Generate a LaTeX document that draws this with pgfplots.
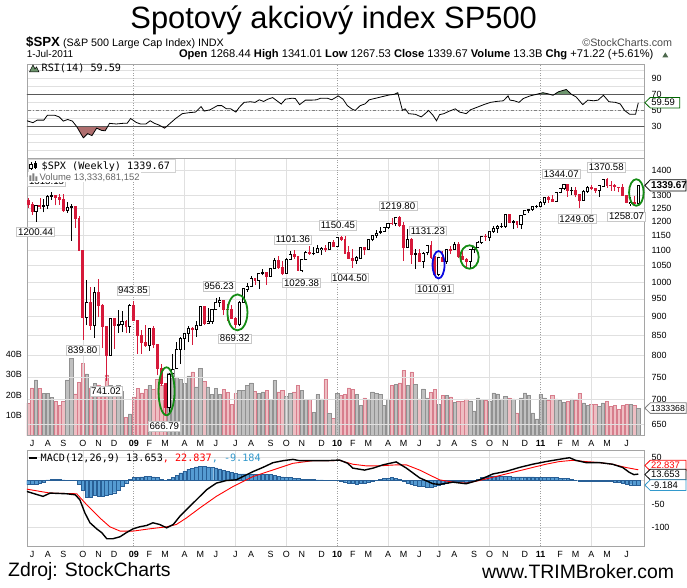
\documentclass[border=0pt]{standalone}
\usepackage{pgfplots}
\pgfplotsset{compat=1.18}
\usepgfplotslibrary{fillbetween}
\usepackage{pgfplotstable}
\usepackage{fontspec}
\setmainfont{Liberation Sans}
\newfontfamily\monof{DejaVu Sans Mono}
\definecolor{cred}{RGB}{214,25,58}
\definecolor{vpink}{RGB}{238,190,195}
\definecolor{vpinkd}{RGB}{215,125,140}
\definecolor{vgray}{RGB}{192,192,192}
\definecolor{vgrayd}{RGB}{145,145,145}
\definecolor{gridc}{RGB}{224,224,224}
\definecolor{framec}{RGB}{165,165,165}
\definecolor{histc}{RGB}{85,155,210}
\definecolor{histd}{RGB}{40,95,150}
\definecolor{macdblue}{RGB}{51,153,204}
\definecolor{rsigreen}{RGB}{110,150,110}
\definecolor{rsired}{RGB}{175,110,110}
\definecolor{labgray}{RGB}{200,200,200}
\definecolor{agreen}{RGB}{20,140,20}
\definecolor{ablue}{RGB}{10,10,225}

\pgfplotsset{
  panel/.style={
    scale only axis, width=618bp, xmin=-26.31, xmax=131.55,
    axis line style={draw=framec, line width=0.8bp},
    tick style={draw=none}, major tick length=0pt, minor tick length=0pt,
    xtick=\empty,
    minor xtick={-12,14,27,40,66,79,92,118},
    xminorgrids=true,
    minor x grid style={draw=gridc, line width=0.7bp},
    extra x ticks={1,53,105}, extra x tick labels={},
    extra x tick style={grid=major, major grid style={draw=gray!75, dash pattern=on 1bp off 1.5bp, line width=0.7bp}},
    ymajorgrids=true,
    major grid style={draw=gridc, line width=0.7bp},
    yticklabel pos=right,
    yticklabel style={anchor=west, inner sep=0pt, xshift=7bp, font=\fontsize{9}{9}\selectfont},
    xticklabel style={anchor=north, inner sep=0pt, yshift=-5bp, font=\fontsize{9}{9}\selectfont},
  },
  months/.style={
    xtick={-25,-21,-17,-12,-8,-4,1,5,9,14,18,22,27,31,36,40,44,49,53,57,61,66,70,74,79,83,88,92,96,101,105,110,114,118,122,127},
    xticklabels={J,A,S,O,N,D,\textbf{09},F,M,A,M,J,J,A,S,O,N,D,\textbf{10},F,M,A,M,J,J,A,S,O,N,D,\textbf{11},F,M,A,M,J},
  },
}
\tikzset{plab/.style={draw=labgray, fill=white, inner xsep=1.5bp, inner ysep=1.3bp, font=\fontsize{9.7}{9.7}\selectfont}}

% up-candle bodies (open, close)
\pgfplotstableread[row sep=\\]{
k y\\
-24 1239.5\\ -24 1260.7\\ -24 nan\\
-22 1258\\ -22 1260.3\\ -22 nan\\
-21 1260\\ -21 1296.3\\ -21 nan\\
-20 1296\\ -20 1298.2\\ -20 nan\\
-16 1242\\ -16 1251.7\\ -16 nan\\
-15 1252\\ -15 1255.1\\ -15 nan\\
-11 899\\ -11 940.6\\ -11 nan\\
-9 877\\ -9 968.8\\ -9 nan\\
-5 800\\ -5 896.2\\ -5 nan\\
-3 876\\ -3 879.7\\ -3 nan\\
-2 880\\ -2 887.9\\ -2 nan\\
0 873\\ 0 931.8\\ 0 nan\\
5 826\\ 5 868.6\\ 5 nan\\
10 683\\ 10 756.6\\ 10 nan\\
11 757\\ 11 768.5\\ 11 nan\\
12 769\\ 12 815.9\\ 12 nan\\
13 816\\ 13 842.5\\ 13 nan\\
14 842\\ 14 856.6\\ 14 nan\\
15 857\\ 15 869.6\\ 15 nan\\
17 866\\ 17 877.5\\ 17 nan\\
18 878\\ 18 929.2\\ 18 nan\\
20 883\\ 20 887\\ 20 nan\\
21 887\\ 21 919.1\\ 21 nan\\
22 919\\ 22 940.1\\ 22 nan\\
23 940\\ 23 946.2\\ 23 nan\\
28 879\\ 28 940.4\\ 28 nan\\
29 940\\ 29 979.3\\ 29 nan\\
30 979\\ 30 987.5\\ 30 nan\\
31 987\\ 31 1010.5\\ 31 nan\\
33 1004\\ 33 1026.1\\ 33 nan\\
34 1026\\ 34 1028.9\\ 34 nan\\
36 1016\\ 36 1042.7\\ 36 nan\\
37 1043\\ 37 1068.3\\ 37 nan\\
40 1025\\ 40 1071.5\\ 40 nan\\
41 1071\\ 41 1087.7\\ 41 nan\\
44 1036\\ 44 1069.3\\ 44 nan\\
45 1069\\ 45 1093.5\\ 45 nan\\
47 1091\\ 47 1091.5\\ 47 nan\\
48 1092\\ 48 1106\\ 48 nan\\
49 1106\\ 49 1106.4\\ 49 nan\\
51 1102\\ 51 1126.5\\ 51 nan\\
53 1115\\ 53 1145\\ 53 nan\\
58 1066\\ 58 1075.5\\ 58 nan\\
59 1075\\ 59 1109.2\\ 59 nan\\
61 1105\\ 61 1138.7\\ 61 nan\\
62 1139\\ 62 1150\\ 62 nan\\
63 1150\\ 63 1159.9\\ 63 nan\\
64 1160\\ 64 1166.6\\ 64 nan\\
65 1167\\ 65 1178.1\\ 65 nan\\
66 1178\\ 66 1194.4\\ 66 nan\\
68 1192\\ 68 1217.3\\ 68 nan\\
71 1111\\ 71 1135.7\\ 71 nan\\
73 1088\\ 73 1089.4\\ 73 nan\\
75 1065\\ 75 1091.6\\ 75 nan\\
76 1092\\ 76 1117.5\\ 76 nan\\
79 1023\\ 79 1078\\ 79 nan\\
81 1065\\ 81 1102.7\\ 81 nan\\
83 1102\\ 83 1121.6\\ 83 nan\\
87 1065\\ 87 1104.5\\ 87 nan\\
88 1104\\ 88 1109.6\\ 88 nan\\
89 1110\\ 89 1125.6\\ 89 nan\\
90 1126\\ 90 1148.7\\ 90 nan\\
92 1146\\ 92 1165.2\\ 92 nan\\
93 1165\\ 93 1176.2\\ 93 nan\\
94 1176\\ 94 1183.1\\ 94 nan\\
95 1183\\ 95 1183.3\\ 95 nan\\
96 1183\\ 96 1225.9\\ 96 nan\\
98 1199\\ 98 1199.7\\ 98 nan\\
100 1189\\ 100 1224.7\\ 100 nan\\
101 1225\\ 101 1240.4\\ 101 nan\\
102 1240\\ 102 1243.9\\ 102 nan\\
103 1244\\ 103 1256.8\\ 103 nan\\
104 1257\\ 104 1257.6\\ 104 nan\\
105 1258\\ 105 1271.5\\ 105 nan\\
106 1272\\ 106 1293.2\\ 106 nan\\
109 1276\\ 109 1310.9\\ 109 nan\\
110 1311\\ 110 1329.2\\ 110 nan\\
111 1329\\ 111 1343\\ 111 nan\\
113 1320\\ 113 1321.2\\ 113 nan\\
116 1279\\ 116 1313.8\\ 116 nan\\
117 1314\\ 117 1332.4\\ 117 nan\\
120 1320\\ 120 1337.4\\ 120 nan\\
121 1337\\ 121 1363.6\\ 121 nan\\
128 1271\\ 128 1271.5\\ 128 nan\\
130 1268.44\\ 130 1339.67\\ 130 nan\\
}\upbody

% down-candle bodies (open, close)
\pgfplotstableread[row sep=\\]{
k y\\
-26 1278\\ -26 1262.9\\ -26 nan\\
-25 1262.9\\ -25 1239.5\\ -25 nan\\
-23 1261\\ -23 1257.8\\ -23 nan\\
-19 1298\\ -19 1292.2\\ -19 nan\\
-18 1292\\ -18 1282.8\\ -18 nan\\
-17 1283\\ -17 1242.3\\ -17 nan\\
-14 1255\\ -14 1213.3\\ -14 nan\\
-13 1213\\ -13 1099.2\\ -13 nan\\
-12 1099\\ -12 899.2\\ -12 nan\\
-10 941\\ -10 876.8\\ -10 nan\\
-8 969\\ -8 931\\ -8 nan\\
-7 931\\ -7 873.3\\ -7 nan\\
-6 873\\ -6 800\\ -6 nan\\
-4 896\\ -4 876.1\\ -4 nan\\
-1 888\\ -1 872.8\\ -1 nan\\
1 932\\ 1 890.4\\ 1 nan\\
2 890\\ 2 850.1\\ 2 nan\\
3 850\\ 3 832\\ 3 nan\\
4 832\\ 4 825.9\\ 4 nan\\
6 869\\ 6 826.8\\ 6 nan\\
7 827\\ 7 770.1\\ 7 nan\\
8 770\\ 8 735.1\\ 8 nan\\
9 735\\ 9 683.4\\ 9 nan\\
16 870\\ 16 866.2\\ 16 nan\\
19 929\\ 19 882.9\\ 19 nan\\
24 946\\ 24 921.2\\ 24 nan\\
25 921\\ 25 918.9\\ 25 nan\\
26 919\\ 26 896.4\\ 26 nan\\
27 896\\ 27 879.1\\ 27 nan\\
32 1010\\ 32 1004.1\\ 32 nan\\
35 1029\\ 35 1016.4\\ 35 nan\\
38 1068\\ 38 1044.4\\ 38 nan\\
39 1044\\ 39 1025.2\\ 39 nan\\
42 1088\\ 42 1079.6\\ 42 nan\\
43 1080\\ 43 1036.2\\ 43 nan\\
46 1093\\ 46 1091.4\\ 46 nan\\
50 1106\\ 50 1102.5\\ 50 nan\\
52 1126\\ 52 1115.1\\ 52 nan\\
54 1145\\ 54 1136\\ 54 nan\\
55 1136\\ 55 1091.8\\ 55 nan\\
56 1092\\ 56 1073.9\\ 56 nan\\
57 1074\\ 57 1066.2\\ 57 nan\\
60 1109\\ 60 1104.5\\ 60 nan\\
67 1194\\ 67 1192.1\\ 67 nan\\
69 1217\\ 69 1186.7\\ 69 nan\\
70 1187\\ 70 1110.9\\ 70 nan\\
72 1136\\ 72 1087.7\\ 72 nan\\
74 1089\\ 74 1064.9\\ 74 nan\\
77 1117\\ 77 1076.8\\ 77 nan\\
78 1077\\ 78 1022.6\\ 78 nan\\
80 1078\\ 80 1064.9\\ 80 nan\\
82 1103\\ 82 1101.6\\ 82 nan\\
84 1122\\ 84 1079.3\\ 84 nan\\
85 1079\\ 85 1071.7\\ 85 nan\\
86 1072\\ 86 1064.6\\ 86 nan\\
91 1149\\ 91 1146.2\\ 91 nan\\
97 1226\\ 97 1199.2\\ 97 nan\\
99 1200\\ 99 1189.4\\ 99 nan\\
107 1293\\ 107 1283.4\\ 107 nan\\
108 1283\\ 108 1276.3\\ 108 nan\\
112 1343\\ 112 1319.9\\ 112 nan\\
114 1321\\ 114 1304.3\\ 114 nan\\
115 1304\\ 115 1279.2\\ 115 nan\\
118 1332\\ 118 1328.2\\ 118 nan\\
119 1328\\ 119 1319.7\\ 119 nan\\
122 1364\\ 122 1340.2\\ 122 nan\\
123 1340\\ 123 1337.8\\ 123 nan\\
124 1338\\ 124 1333.3\\ 124 nan\\
125 1333\\ 125 1331.1\\ 125 nan\\
126 1331\\ 126 1300.2\\ 126 nan\\
127 1300\\ 127 1271\\ 127 nan\\
129 1271\\ 129 1268.5\\ 129 nan\\
}\downbody

% RSI(14)
\pgfplotstableread[row sep=\\]{
k r\\
-26.3 37.2\\ -24.8 34.8\\ -23.7 38\\ -22.0 38\\ -21.1 44\\ -19.2 44\\ -18.1 42\\ -17.0 36.8\\
-15.9 38.8\\ -14.7 36.8\\ -13.6 30\\ -11.9 16\\ -10.8 21.2\\ -9.7 18.8\\ -8.5 28\\ -7.2 25.2\\
-6.3 24.8\\ -5.2 34\\ -3.5 33.2\\ -1.8 34\\ -0.7 34\\ 0.2 40\\ 1.6 35.2\\ 2.7 33.2\\ 4.1 33.2\\
5.2 37.2\\ 6.3 34\\ 7.4 32\\ 8.9 28\\ 10.0 32.8\\ 11.7 40\\ 13.4 46\\ 15.1 47.2\\ 16.8 48\\
18.2 54.8\\ 19.0 49.2\\ 20.5 50.8\\ 22.4 56\\ 23.5 56\\ 24.7 52\\ 25.8 52\\ 27.1 48\\ 28.0 54\\
29.2 60\\ 30.8 60.8\\ 32.0 60\\ 33.1 63.2\\ 34.2 61.2\\ 35.3 64\\ 36.5 66\\ 37.6 62\\ 38.7 58\\
39.8 64\\ 41.5 65.2\\ 42.3 64.8\\ 43.4 57.2\\ 44.9 62.8\\ 46.6 62.8\\ 47.7 63.2\\ 48.8 65.2\\
50.5 65.2\\ 51.6 63.2\\ 53.3 68\\ 54.5 64\\ 55.6 56\\ 56.7 52\\ 57.6 50\\ 58.9 56\\ 60.1 58\\
61.2 63.2\\ 62.9 65.2\\ 64.6 67.2\\ 66.3 69.2\\ 67.6 70\\ 68.5 72\\ 69.7 50\\ 70.4 52\\ 71.3 46\\
73.0 45.2\\ 74.5 42\\ 75.3 45.2\\ 76.4 50\\ 77.5 44\\ 78.4 37.2\\ 79.2 44.8\\ 80.3 46\\ 81.5 48.8\\
83.2 52\\ 84.3 48\\ 86.0 46\\ 87.1 50.8\\ 88.8 54\\ 90.5 57.2\\ 92.2 60\\ 93.8 61.2\\ 95.5 62\\
96.7 68\\ 97.2 62.8\\ 98.3 62\\ 99.5 60\\ 100.6 64.8\\ 102.3 68\\ 104.0 70\\ 105.6 72\\ 106.8 70.8\\
108.2 68.8\\ 109.6 73.2\\ 111.6 76\\ 112.9 70\\ 114.1 66.8\\ 115.8 57.2\\ 117.1 62.8\\ 118.6 62\\
119.7 62.8\\ 121.1 68.8\\ 122.5 60.8\\ 124.2 60\\ 125.4 58\\ 126.5 50\\ 127.8 45.2\\ 129.3 45.2\\
130 59.59\\
}\rsitab

\begin{document}
\begin{tikzpicture}
\path (0,0) rectangle (687bp,-588bp);

% ---------------- RSI panel ----------------
\begin{axis}[panel, at={(27bp,-64bp)}, anchor=north west, height=95bp,
  ymin=-10.04, ymax=107.7, ytick={0,10,20,30,40,50,60,70,80,90,100}, yticklabels={,,,30,,50,,70,,90,}]
\addplot[draw=none, name path=rsi] table[x=k,y=r]{\rsitab};
\addplot[draw=none, name path=l70] coordinates {(-30,70) (135,70)};
\addplot[draw=none, name path=l30] coordinates {(-30,30) (135,30)};
\addplot[fill=rsigreen, draw=none] fill between[of=rsi and l70, soft clip={(axis cs:-30,70) rectangle (axis cs:135,105)}];
\addplot[fill=rsired, draw=none] fill between[of=rsi and l30, soft clip={(axis cs:-30,-5) rectangle (axis cs:135,30)}];
\addplot[gray!70!black, line width=0.9bp] coordinates {(-30,70) (135,70)};
\addplot[gray!70!black, line width=0.9bp] coordinates {(-30,30) (135,30)};
\addplot[gray, line width=0.7bp, dash dot] coordinates {(-30,50) (135,50)};
\addplot[black, line width=0.8bp] table[x=k,y=r]{\rsitab};
\end{axis}

% ---------------- Volume (behind price) ----------------
\begin{axis}[scale only axis, width=618bp, height=276.7bp, at={(27bp,-159bp)}, anchor=north west,
  xmin=-26.31, xmax=131.55, ymin=0, ymax=137.1,
  axis line style={draw=none}, tick style={draw=none}, major tick length=0pt,
  xtick=\empty, ytick={10,20,30,40}, yticklabels={10B,20B,30B,40B},
  yticklabel style={anchor=east, inner sep=0pt, xshift=-5bp, font=\fontsize{9}{9}\selectfont}]
\addplot[ybar, bar width=3.3bp, bar shift=0pt, fill=vpink, draw=vpinkd, line width=0.5bp] coordinates {
(-26,16.0)(-25,23.5)(-23,23.4)(-19,16.7)(-18,14.9)(-17,16.7)(-14,20.5)(-13,26.2)(-12,35.5)(-10,23.5)
(-8,25.0)(-7,22.6)(-6,29.9)(-4,24.1)(-1,9.0)(1,19.0)(2,23.4)(3,21.0)(4,22.6)(6,22.9)(7,27.6)(8,24.7)
(9,22.6)(16,31.5)(19,26.6)(24,22.6)(25,21.3)(26,15.2)(27,20.7)(32,21.7)(35,22.2)(38,21.5)(39,22.2)
(42,21.5)(43,24.6)(46,17.7)(50,27.6)(52,8.3)(54,19.7)(55,20.2)(56,23.5)(57,22.7)(60,18.5)(67,24.6)
(69,26.0)(70,32.0)(72,31.4)(74,18.0)(77,21.4)(78,22.7)(80,19.9)(82,19.0)(84,16.9)(85,16.9)(86,18.1)
(91,17.5)(97,18.6)(99,11.1)(107,17.2)(108,19.6)(112,16.7)(114,17.2)(115,20.7)(118,15.2)(119,15.5)
(122,16.7)(123,14.4)(124,14.7)(125,12.7)(126,14.7)(127,15.5)(129,14.7)};
\addplot[ybar, bar width=3.3bp, bar shift=0pt, fill=vgray, draw=vgrayd, line width=0.5bp] coordinates {
(-24,27.5)(-22,20.6)(-21,20.6)(-20,18.8)(-16,27.5)(-15,38.0)(-11,30.5)(-9,25.9)(-5,24.7)(-3,24.7)
(-2,21.9)(0,10.6)(5,24.7)(10,31.0)(11,32.7)(12,29.0)(13,27.6)(14,25.9)(15,29.5)(17,24.0)(18,33.2)
(20,24.0)(21,20.3)(22,23.2)(23,20.2)(28,22.2)(29,22.2)(30,24.6)(31,26.0)(33,20.7)(34,21.5)(36,17.7)
(37,27.1)(40,19.2)(41,20.7)(44,22.2)(45,17.7)(47,11.4)(48,20.2)(49,18.0)(51,10.7)(53,20.7)(58,20.2)
(59,14.7)(61,17.7)(62,21.5)(63,20.7)(64,20.2)(65,14.7)(66,18.0)(68,25.1)(71,24.6)(73,25.4)(75,23.0)
(76,18.5)(79,15.5)(81,19.9)(83,16.4)(87,17.1)(88,12.1)(89,18.5)(90,17.7)(92,17.1)(93,21.0)(94,20.5)
(95,18.1)(96,19.3)(98,18.1)(100,18.5)(101,21.0)(102,19.7)(103,11.1)(104,8.1)(105,20.2)(106,18.5)
(109,18.0)(110,17.2)(111,16.4)(113,18.0)(116,16.1)(117,14.7)(120,14.4)(121,16.1)(128,15.2)(130,13.3)};
\end{axis}

% ---------------- Price panel ----------------
\begin{axis}[panel, months, at={(27bp,-159bp)}, anchor=north west, height=276.7bp,
  ymode=log, ymin=628.7, ymax=1451.7, clip=false,
  ytick={650,700,750,800,850,900,950,1000,1050,1100,1150,1200,1250,1300,1400},
  yticklabels={650,700,750,800,850,900,950,1000,1050,1100,1150,1200,1250,1300,1400}]
% down wicks
\addplot[cred, line width=0.8bp, unbounded coords=jump] coordinates {
(-26,1252)(-26,1290)(-26,nan) (-25,1225)(-25,1273)(-25,nan) (-23,1248)(-23,1291)(-23,nan)
(-19,1261)(-19,1300)(-19,nan) (-18,1263)(-18,1304)(-18,nan) (-17,1236)(-17,1303)(-17,nan)
(-14,1179)(-14,1255)(-14,nan) (-13,1098)(-13,1220)(-13,nan) (-12,839.8)(-12,1099)(-12,nan)
(-10,865)(-10,985)(-10,nan) (-8,899)(-8,1007.5)(-8,nan) (-7,818.7)(-7,934)(-7,nan)
(-6,741.02)(-6,874)(-6,nan) (-4,815.7)(-4,896)(-4,nan) (-1,857)(-1,890)(-1,nan)
(1,888)(1,943.85)(1,nan) (2,804.3)(2,890)(2,nan) (3,804.9)(3,865.8)(3,nan)
(4,821.7)(4,877.9)(4,nan) (6,818.4)(6,875)(6,nan) (7,754.3)(7,827)(7,nan)
(8,730)(8,780)(8,nan) (9,666.79)(9,735)(9,nan) (16,826.8)(16,871.8)(16,nan)
(19,878.9)(19,930.2)(19,nan) (24,903.8)(24,946.3)(24,nan) (25,888.9)(25,935)(25,nan)
(26,896.4)(26,931.9)(26,nan) (27,869.32)(27,898.7)(27,nan) (32,991)(32,1013)(32,nan)
(35,991.97)(35,1030)(35,nan) (38,1041.2)(38,1080.2)(38,nan) (39,1020)(39,1065)(39,nan)
(42,1073)(42,1101.36)(42,nan) (43,1033.4)(43,1081)(43,nan) (46,1085)(46,1113.7)(46,nan)
(50,1095.4)(50,1117.6)(50,nan) (52,1114.8)(52,1133.9)(52,nan) (54,1131.4)(54,1150.45)(54,nan)
(55,1090.2)(55,1150.4)(55,nan) (56,1071.6)(56,1115.5)(56,nan) (57,1044.5)(57,1104.7)(57,nan)
(60,1086)(60,1112.4)(60,nan) (67,1186.6)(67,1213.9)(67,nan) (69,1181.6)(69,1219.8)(69,nan)
(70,1065.8)(70,1197.8)(70,nan) (72,1055.9)(72,1141.9)(72,nan) (74,1064.9)(74,1105.7)(74,nan)
(77,1071.8)(77,1131.23)(77,nan) (78,1010.91)(78,1081.4)(78,nan) (80,1063.3)(80,1099.1)(80,nan)
(82,1088)(82,1115)(82,nan) (84,1076.6)(84,1127.3)(84,nan) (85,1069.2)(85,1100.1)(85,nan)
(86,1039.7)(86,1075)(86,nan) (91,1131.9)(91,1157.2)(91,nan) (97,1194)(97,1227.1)(97,nan)
(99,1176.2)(99,1200)(99,nan) (107,1271.3)(107,1296.1)(107,nan) (108,1275.1)(108,1302.7)(108,nan)
(112,1294.3)(112,1343)(112,nan) (114,1291.2)(114,1331.1)(114,nan) (115,1249.05)(115,1304)(115,nan)
(118,1322)(118,1339.5)(118,nan) (119,1309.7)(119,1328.2)(119,nan) (122,1329.2)(122,1370.58)(122,nan)
(123,1318.5)(123,1359.4)(123,nan) (124,1318.5)(124,1346.8)(124,nan) (125,1311.8)(125,1334.6)(125,nan)
(126,1297)(126,1345.2)(126,nan) (127,1268.9)(127,1300.2)(127,nan) (129,1262.9)(129,1298.6)(129,nan)};
% up wicks
\addplot[black, line width=0.8bp, unbounded coords=jump] coordinates {
(-24,1200.44)(-24,1262)(-24,nan) (-22,1234)(-22,1285)(-22,nan) (-21,1247)(-21,1300)(-21,nan)
(-20,1283)(-20,1313.15)(-20,nan) (-16,1233)(-16,1274)(-16,nan) (-15,1133.5)(-15,1265)(-15,nan)
(-11,877)(-11,1006)(-11,nan) (-9,845)(-9,984)(-9,nan) (-5,800)(-5,897)(-5,nan)
(-3,857.7)(-3,918.9)(-3,nan) (-2,858.3)(-2,914.7)(-2,nan) (0,857)(0,934.7)(0,nan)
(5,812)(5,870.8)(5,nan) (10,672.9)(10,758.3)(10,nan) (11,751.4)(11,803)(11,nan)
(12,768)(12,832.98)(12,nan) (13,779.8)(13,845.6)(13,nan) (14,814.5)(14,857)(14,nan)
(15,833)(15,875)(15,nan) (17,847)(17,887.3)(17,nan) (18,878)(18,930.2)(18,nan)
(20,882.9)(20,924.6)(20,nan) (21,881.5)(21,920)(21,nan) (22,919)(22,951.7)(22,nan)
(23,926)(23,956.23)(23,nan) (28,875.3)(28,943.96)(28,nan) (29,940)(29,979.4)(29,nan)
(30,971)(30,996.7)(30,nan) (31,987)(31,1018)(31,nan) (33,978.5)(33,1027.6)(33,nan)
(34,1020)(34,1039.5)(34,nan) (36,1016)(36,1044.1)(36,nan) (37,1042)(37,1074.8)(37,nan)
(40,1025)(40,1075)(40,nan) (41,1071)(41,1096.6)(41,nan) (44,1029.38)(44,1071.5)(44,nan)
(45,1069)(45,1097)(45,nan) (47,1083.7)(47,1112.4)(47,nan) (48,1090)(48,1119)(48,nan)
(49,1085.9)(49,1110)(49,nan) (51,1102)(51,1126.5)(51,nan) (53,1115)(53,1145.4)(53,nan)
(58,1056.1)(58,1080)(58,nan) (59,1075)(59,1112.4)(59,nan) (61,1105)(61,1139)(61,nan)
(62,1131)(62,1151)(62,nan) (63,1141)(63,1169.2)(63,nan) (64,1156)(64,1180.7)(64,nan)
(65,1165)(65,1181.4)(65,nan) (66,1175.3)(66,1194.7)(66,nan) (68,1183.6)(68,1217.3)(68,nan)
(71,1111)(71,1173.6)(71,nan) (73,1040.8)(73,1104)(73,nan) (75,1042.2)(75,1093.9)(75,nan)
(76,1083.4)(76,1119)(76,nan) (79,1018)(79,1078)(79,nan) (81,1056.9)(81,1103.7)(81,nan)
(83,1102)(83,1129.2)(83,nan) (87,1040.9)(87,1105.1)(87,nan) (88,1091.4)(88,1110.9)(88,nan)
(89,1110)(89,1131.5)(89,nan) (90,1122.5)(90,1148.9)(90,nan) (92,1131.9)(92,1167.7)(92,nan)
(93,1159.7)(93,1184.4)(93,nan) (94,1159.7)(94,1189.4)(94,nan) (95,1177.7)(95,1196.1)(95,nan)
(96,1177.7)(96,1227.1)(96,nan) (98,1173)(98,1207.4)(98,nan) (100,1173.6)(100,1225.6)(100,nan)
(101,1223)(101,1240.4)(101,nan) (102,1232.9)(102,1246.7)(102,nan) (103,1241)(103,1259)(103,nan)
(104,1251.5)(104,1262.6)(104,nan) (105,1257.6)(105,1278.2)(105,nan) (106,1262.2)(106,1293.2)(106,nan)
(109,1276)(109,1311)(109,nan) (110,1307.6)(110,1330.8)(110,nan) (111,1320.9)(111,1344.07)(111,nan)
(113,1299.2)(113,1332.3)(113,nan) (116,1279)(116,1319.7)(116,nan) (117,1309.7)(117,1337.9)(117,nan)
(120,1294.7)(120,1337.8)(120,nan) (121,1336.5)(121,1364.6)(121,nan) (128,1258.07)(128,1292.5)(128,nan)
(130,1267.53)(130,1341.01)(130,nan)};
% down bodies
\addplot[cred, line width=2.9bp, unbounded coords=jump] table[x=k,y=y]{\downbody};
\addplot[cred, only marks, mark=-, mark size=1.45bp, mark options={line width=0.8bp}] table[x=k,y=y]{\downbody};
% up bodies (hollow)
\addplot[black, line width=3.1bp, unbounded coords=jump] table[x=k,y=y]{\upbody};
\addplot[white, line width=1.5bp, unbounded coords=jump] table[x=k,y=y]{\upbody};
\addplot[black, only marks, mark=-, mark size=1.55bp, mark options={line width=0.8bp}] table[x=k,y=y]{\upbody};
% value labels
\node[plab, anchor=south, yshift=5.5bp] at (axis cs:-21.3,1313.15) {1313.15};
\node[plab, anchor=north, yshift=-5.5bp] at (axis cs:-24.1,1200.44) {1200.44};
\node[plab, anchor=north, yshift=-5.5bp] at (axis cs:-12.1,839.80) {839.80};
\node[plab, anchor=north, yshift=-5.5bp] at (axis cs:-6.1,741.02) {741.02};
\node[plab, anchor=south, yshift=5.5bp] at (axis cs:0.8,943.85) {943.85};
\node[plab, anchor=north, yshift=-5.5bp] at (axis cs:8.8,666.79) {666.79};
\node[plab, anchor=south, yshift=5.5bp] at (axis cs:22.8,956.23) {956.23};
\node[plab, anchor=north, yshift=-5.5bp] at (axis cs:26.8,869.32) {869.32};
\node[plab, anchor=south, yshift=5.5bp] at (axis cs:41.7,1101.36) {1101.36};
\node[plab, anchor=north, yshift=-5.5bp] at (axis cs:43.9,1029.38) {1029.38};
\node[plab, anchor=south, yshift=5.5bp] at (axis cs:53.2,1150.45) {1150.45};
\node[plab, anchor=north, yshift=-5.5bp] at (axis cs:56.2,1044.50) {1044.50};
\node[plab, anchor=south, yshift=5.5bp] at (axis cs:68.5,1219.80) {1219.80};
\node[plab, anchor=south, yshift=5.5bp] at (axis cs:76.2,1131.23) {1131.23};
\node[plab, anchor=north, yshift=-5.5bp] at (axis cs:77.9,1010.91) {1010.91};
\node[plab, anchor=south, yshift=5.5bp] at (axis cs:110.3,1344.07) {1344.07};
\node[plab, anchor=south, yshift=5.5bp] at (axis cs:121.8,1370.58) {1370.58};
\node[plab, anchor=north, yshift=-5.5bp] at (axis cs:114.3,1249.05) {1249.05};
\node[plab, anchor=north, yshift=-5.5bp] at (axis cs:127.0,1258.07) {1258.07};
\end{axis}

% ---------------- MACD panel ----------------
\begin{axis}[panel, months, at={(27bp,-451bp)}, anchor=north west, height=96bp,
  ymin=-140.4, ymax=63.8, ytick={-100,-50,0,50}, yticklabels={-100,-50,,50}]
\addplot[ybar, bar width=3.5bp, bar shift=0pt, fill=histc, draw=histd, line width=0.4bp] coordinates {
(-26,-8)(-25,-8)(-24,-8)(-23,-6)(-22,-3)(-21,1.5)(-20,2)(-19,2)(-18,2)(-17,1.5)(-16,1)(-15,1)(-14,0)
(-13,-8)(-12,-20)(-11,-35)(-10,-35)(-9,-31)(-8,-33)(-7,-34)(-6,-32)(-5,-29)(-4,-26)(-3,-20)(-2,-13)
(-1,-6)(0,3)(1,6)(2,7)(3,8)(4,9)(5,9)(6,8)(7,6)(8,3)(9,0)(10,3)(11,6)(12,11)(13,16)(14,20)(15,24)
(16,26)(17,29)(18,30)(19,30)(20,29)(21,28)(22,27)(23,25)(24,22)(25,19)(26,17)(27,15)(28,14)(29,14)
(30,14)(31,13)(32,13)(33,13)(34,13)(35,13)(36,13)(37,11)(38,9)(39,8)(40,7)(41,6)(42,5)(43,4)(44,3)
(45,3)(46,2)(47,2)(48,1.5)(49,1.5)(50,1)(51,1)(52,0.5)(53,0)(54,-1)(55,-3)(56,-5)(57,-6)(58,-7)
(59,-6)(60,-5)(61,-3)(62,-1)(63,1)(64,3)(65,4)(66,5)(67,6)(68,5)(69,3)(70,-2)(71,-5)(72,-8)(73,-10)
(74,-12)(75,-13)(76,-14)(77,-14)(78,-12)(79,-10)(80,-8)(81,-5)(82,-3)(83,-2)(84,-2)(85,-2)(86,-3)
(87,-2)(88,1)(89,3)(90,6)(91,8)(92,9)(93,10)(94,10)(95,9)(96,9)(97,9)(98,8)(99,8)(100,8)(101,8)
(102,8)(103,8)(104,7)(105,7)(106,7)(107,7)(108,6)(109,6)(110,5)(111,5)(112,4)(113,2)(114,0)
(115,-1)(116,-1)(117,-1)(118,-1)(119,-1)(120,-1)(121,-1)(122,-1.5)(123,-2)(124,-3)(125,-4)
(126,-5)(127,-7)(128,-9)(129,-10)(130,-9.184)};
\addplot[red, line width=0.9bp] coordinates {
(-26.4,-18.3)(-20.4,-26.8)(-13.6,-28.2)(-11.1,-51)(-7.7,-79.5)(-5.1,-98.6)(-2.5,-107.7)(0.85,-107.7)
(5.1,-102.8)(9.4,-98.6)(11.9,-93.6)(14.5,-79.5)(17.9,-58.4)(22.1,-33.8)(26.4,-12.7)(31.5,8.4)
(36.6,22.5)(41.7,36.6)(46.8,42.2)(51.9,42.2)(53.6,43)(57,34.7)(60.4,31.2)(63.7,31.2)(68.1,33.3)
(70.7,33.3)(74.1,22.2)(77.5,8.3)(79.2,1.4)(82.6,-3.5)(86,-5.6)(89.4,0)(92.8,6.9)(96.2,13.9)
(99.6,20.8)(103,27.8)(106.4,34.7)(109.8,40.3)(113.2,43)(116.6,40.3)(120,38.2)(123.4,34.7)
(126.8,27.8)(130,22.84)};
\addplot[black, line width=1.4bp] coordinates {
(-26.4,-23.2)(-22.2,-33.8)(-20.4,-26.8)(-16.2,-28.2)(-14,-30.3)(-12.8,-40.8)(-11.5,-69)(-10.2,-90)
(-8.5,-102.8)(-7.2,-111)(-5.9,-123.9)(-4.3,-123.9)(-2.5,-119.7)(-0.9,-111)(0.85,-102.8)(2.5,-98.6)
(4.3,-95.7)(5.9,-90)(7.6,-93.6)(9.4,-100.7)(11.1,-93.6)(12.8,-76)(14.5,-62)(16.2,-47.9)(17.9,-33.8)
(19.6,-19.7)(22.1,-5.6)(24.7,0)(27.2,1.4)(28.9,8.4)(31.5,19)(34.1,28.2)(36.6,38)(39.2,42.2)(41.7,45)
(43.4,42.2)(46.8,42.2)(50.2,42.2)(53.6,43.6)(55.7,36.6)(57,26.4)(60,22.2)(62.2,26.4)(64.7,33.3)
(68.1,39.6)(70.7,26.4)(74.1,5.6)(77.5,-6.9)(79.2,-8.3)(82.6,-3.5)(86,-6.9)(89.4,1.4)(92.8,13.9)
(96.2,19.4)(99.6,27.8)(103,34.7)(106.4,40.3)(109.8,45.1)(112.4,48.6)(114,43)(116.6,38.2)(120,38.2)
(123.4,34.7)(126,27.8)(127.7,17.4)(128.9,12.5)(130,13.65)};
\end{axis}

% ---------------- annotations in pixel frame ----------------
\begin{scope}[x=1bp, y=-1bp]
% title
\node[anchor=base, inner sep=0pt] at (334,28.5) {\fontsize{31}{31}\selectfont Spotový akciový index SP500};
% header
\node[anchor=base west, inner sep=0pt] at (26,46.5) {\fontsize{13.3}{14}\selectfont\bfseries \$SPX};
\node[anchor=base west, inner sep=0pt] at (63,46.5) {\fontsize{10.8}{12}\selectfont (S\&P 500 Large Cap Index) INDX};
\node[anchor=base east, inner sep=0pt, text=black!70] at (673,46.5) {\fontsize{10.8}{12}\selectfont ©StockCharts.com};
\node[anchor=base west, inner sep=0pt] at (26.7,57.5) {\fontsize{10}{12}\selectfont 1-Jul-2011};
\node[anchor=base west, inner sep=0pt] at (179,57.5) {\fontsize{11.2}{12}\selectfont \textbf{Open} 1268.44 \textbf{High} 1341.01 \textbf{Low} 1267.53 \textbf{Close} 1339.67 \textbf{Volume} 13.3B \textbf{Chg} +71.22 (+5.61\%)};
\fill[rsigreen!70!black] (663,57.5) -- (669,57.5) -- (666,52.5) -- cycle;
% RSI legend
\filldraw[fill=rsigreen, draw=black, line width=0.5] (29.5,72) -- (33,65) -- (35,69) -- (36.5,67) -- (39,72) -- cycle;
\node[anchor=base west, inner sep=0pt] at (41.5,71.2) {\monof\fontsize{10.2}{12}\selectfont RSI(14) 59.59};
% price legend
\filldraw[fill=white, draw=gray!35, line width=0.5] (28,159.6) rectangle (175,172);
\fill[white] (28,172) rectangle (141,182.5);
\draw[black, line width=0.6] (31,162) -- (31,170.5) (35.5,161.5) -- (35.5,169.5);
\filldraw[fill=white, draw=black, line width=0.6] (29.8,164) rectangle (32.2,168.5);
\filldraw[fill=black, draw=black, line width=0.6] (34.3,163) rectangle (36.7,167);
\node[anchor=base west, inner sep=0pt] at (41.5,169.7) {\monof\fontsize{10.2}{12}\selectfont \$SPX (Weekly) 1339.67};
\fill[gray] (29.5,175.5) rectangle (31.5,181) (32.5,173.5) rectangle (34.5,181) (35.5,176.5) rectangle (37.5,181);
\node[anchor=base west, inner sep=0pt, text=black!60] at (39.5,180.3) {\fontsize{9.5}{11}\selectfont Volume 13,333,681,152};
% MACD legend
\draw[black, line width=1.6] (29,458.5) -- (37.5,458.5);
\node[anchor=base west, inner sep=0pt] at (40.5,462) {\monof\fontsize{10.2}{12}\selectfont MACD(12,26,9) 13.653\textcolor{red}{, 22.837}\textcolor{macdblue}{, -9.184}};
% ellipses
\draw[agreen, line width=1.8] (166.7,391.7) ellipse [x radius=8bp, y radius=24bp];
\draw[agreen, line width=1.8] (237.7,312.7) ellipse [x radius=10bp, y radius=18bp];
\draw[ablue, line width=1.8] (439,265) ellipse [x radius=6bp, y radius=13.7bp];
\draw[agreen, line width=1.8] (470,257.3) ellipse [x radius=9.2bp, y radius=11.7bp];
\draw[agreen, line width=1.8] (637,192.7) ellipse [x radius=7.3bp, y radius=13.3bp];
% right value boxes
\filldraw[fill=white, draw=green!40!black, line width=0.8] (645.5,102.8) -- (651,97.5) -- (680.5,97.5) -- (680.5,108.1) -- (651,108.1) -- cycle;
\node[anchor=west, inner sep=0pt] at (651.8,102.8) {\fontsize{9.5}{10}\selectfont 59.59};
\filldraw[fill=white, draw=black, line width=0.8] (645.5,185.6) -- (651,180) -- (686.6,180) -- (686.6,191.2) -- (651,191.2) -- cycle;
\node[anchor=west, inner sep=0pt] at (651.5,185.6) {\fontsize{10}{10}\selectfont\bfseries 1339.67};
\filldraw[fill=white, draw=gray, line width=0.8] (645.5,408.5) -- (651,403.2) -- (686.9,403.2) -- (686.9,413.8) -- (651,413.8) -- cycle;
\node[anchor=west, inner sep=0pt] at (651.3,408.5) {\fontsize{8.8}{10}\selectfont 1333368};
\filldraw[fill=white, draw=red, line width=0.8] (645.5,466) -- (651,460.7) -- (686.6,460.7) -- (686.6,471.3) -- (651,471.3) -- cycle;
\node[anchor=west, inner sep=0pt, text=red] at (651.5,466) {\fontsize{9.5}{10}\selectfont 22.837};
\filldraw[fill=white, draw=black, line width=0.8] (645.5,475) -- (651,469.7) -- (686.6,469.7) -- (686.6,480.3) -- (651,480.3) -- cycle;
\node[anchor=west, inner sep=0pt] at (651.5,475) {\fontsize{9.5}{10}\selectfont 13.653};
\filldraw[fill=white, draw=macdblue, line width=0.8] (645.5,485.6) -- (651,480.3) -- (686.6,480.3) -- (686.6,490.9) -- (651,490.9) -- cycle;
\node[anchor=west, inner sep=0pt] at (651.5,485.6) {\fontsize{9.5}{10}\selectfont -9.184};
% footer
\node[anchor=base west, inner sep=0pt] at (8,577.5) {\fontsize{19.5}{20}\selectfont Zdroj: StockCharts};
\node[anchor=base east, inner sep=0pt] at (675,579) {\fontsize{19.5}{20}\selectfont www.TRIMBroker.com};
\end{scope}
\end{tikzpicture}
\end{document}
